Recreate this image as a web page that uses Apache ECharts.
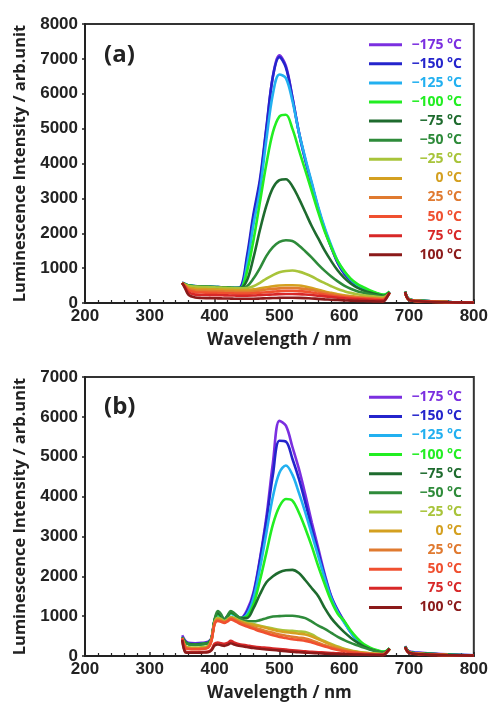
<!DOCTYPE html>
<html>
<head>
<meta charset="utf-8">
<script src="https://cdn.jsdelivr.net/npm/echarts/dist/echarts.min.js"></script>
<style>
  html, body { margin: 0; padding: 0; background: #fff; }
  #chart { width: 491px; height: 704px; }
</style>
</head>
<body>
<div id="chart"></div>
<script>
// Sampling wavelengths (nm); 680 is the detector gap between the two spectral segments
const wavelength = [350,355,360,370,380,390,395,400,405,410,415,420,425,430,
  440,450,460,470,480,490,500,510,520,530,540,550,560,570,580,590,600,610,620,630,640,650,660,
  665,670,680,694,700,720,760,800];

const tempLabels = ['\u2212175 \u00b0C','\u2212150 \u00b0C','\u2212125 \u00b0C','\u2212100 \u00b0C',
  '\u221275 \u00b0C','\u221250 \u00b0C','\u221225 \u00b0C','0 \u00b0C','25 \u00b0C','50 \u00b0C','75 \u00b0C','100 \u00b0C'];

const tempColors = ['#7b2fe0','#2424cc','#22b0f0','#22ee22','#1e6b2e','#2e8b3a',
  '#a8c43a','#d4a020','#e07a30','#f05030','#d82828','#8b1a1a'];

// Panel (a) spectra
const a_m175 = [580,540,500,480,470,465,460,460,455,450,445,440,435,430,440,1250,2450,3450,5000,6500,7100,6800,5900,4900,4100,3400,2700,2100,1600,1150,850,650,500,400,330,270,220,240,320,null,330,110,60,30,15];
const a_m150 = [580,540,505,485,475,468,462,460,456,452,447,442,437,432,460,1350,2550,3550,5050,6500,7050,6750,5900,4900,4100,3400,2700,2100,1600,1150,850,650,500,400,330,270,220,240,310,null,320,110,60,30,15];
const a_m125 = [575,535,500,480,470,465,460,458,455,450,445,440,435,430,430,1100,2250,3250,4700,6000,6550,6450,5800,4900,4150,3450,2750,2150,1650,1200,900,680,520,420,340,280,230,250,320,null,330,110,60,30,15];
const a_m100 = [575,535,500,480,470,465,460,458,455,450,445,440,435,430,430,900,1800,2900,4000,4900,5350,5400,5000,4400,3800,3200,2600,2050,1600,1200,920,700,550,450,360,290,240,260,330,null,330,110,60,30,15];
const a_m75  = [575,530,495,478,468,462,458,455,452,448,443,438,433,430,430,650,1300,2100,2800,3300,3520,3550,3350,3000,2600,2200,1850,1500,1200,930,720,560,440,360,300,250,210,230,310,null,320,100,60,30,15];
const a_m50  = [575,530,495,476,466,460,456,453,450,446,441,436,432,428,430,480,700,1000,1350,1600,1750,1800,1780,1650,1480,1300,1100,920,760,620,500,410,340,290,250,220,190,220,300,null,310,100,55,30,15];
const a_m25  = [570,525,490,470,460,455,450,447,444,440,436,432,428,424,420,430,480,580,700,800,880,920,930,900,840,760,660,570,480,400,340,290,250,220,200,180,160,200,290,null,300,100,55,30,15];
const a_0    = [570,500,440,410,400,395,392,390,388,385,382,380,378,375,370,370,390,420,450,480,500,510,510,500,470,430,380,330,290,250,220,200,180,165,150,140,130,180,290,null,300,90,50,25,10];
const a_25   = [570,480,400,360,350,345,342,340,338,335,332,330,328,325,320,320,335,360,385,405,420,430,430,420,400,370,330,290,255,220,195,175,160,145,135,125,115,170,290,null,300,90,50,25,10];
const a_50   = [570,460,360,310,300,295,292,290,288,285,282,280,278,275,270,270,280,295,310,325,340,350,350,340,325,300,270,240,210,185,165,150,135,125,115,105,95,160,290,null,300,90,50,25,10];
const a_75   = [570,430,300,240,230,228,226,225,224,222,220,218,216,214,210,210,215,225,235,245,255,260,260,255,245,230,210,190,170,150,135,120,110,100,90,80,75,150,300,null,310,90,50,25,10];
const a_100  = [580,400,230,160,145,140,138,136,134,132,130,128,126,124,120,120,122,128,135,142,148,152,152,148,140,130,118,105,95,85,75,68,62,56,50,45,40,130,300,null,320,90,45,20,8];

// Panel (b) spectra
const b_m175 = [520,380,330,320,330,360,450,900,1050,1000,930,1000,1080,1050,950,1150,1600,2450,3500,4850,5900,5780,5250,4700,4050,3350,2700,2050,1500,1150,870,600,400,250,180,130,100,120,190,null,250,120,80,40,20];
const b_m150 = [480,360,310,300,310,340,430,880,1030,980,920,990,1070,1040,950,1100,1550,2400,3400,4550,5400,5380,4950,4450,3850,3200,2600,2000,1480,1130,860,600,400,250,180,130,100,120,190,null,240,110,70,35,15];
const b_m125 = [470,350,300,290,300,330,420,870,1020,970,910,980,1060,1030,950,1050,1450,2200,3100,4000,4600,4780,4550,4100,3600,3050,2500,1950,1450,1100,840,590,400,260,180,130,100,120,190,null,240,110,70,35,15];
const b_m100 = [470,350,300,290,300,330,420,880,1050,990,920,990,1080,1050,950,1000,1300,1900,2600,3300,3750,3940,3900,3600,3200,2750,2250,1800,1380,1060,880,640,450,300,210,150,110,130,200,null,240,100,60,30,15];
const b_m75  = [470,350,300,290,300,330,430,900,1080,1000,910,1000,1100,1060,950,950,1200,1550,1850,2000,2100,2150,2160,2080,1900,1700,1500,1200,950,760,600,460,340,240,170,120,90,110,180,null,230,100,60,30,15];
const b_m50  = [460,340,290,280,290,320,430,920,1130,1050,900,1020,1130,1080,940,870,870,900,950,990,1000,1010,1010,990,950,860,760,680,580,480,400,330,270,210,160,120,90,110,180,null,230,100,60,30,15];
const b_m25  = [450,250,220,215,220,250,400,850,960,930,880,920,980,960,880,830,800,760,720,690,660,640,630,615,600,540,450,370,300,240,180,140,110,85,70,60,50,90,170,null,220,90,50,25,10];
const b_0    = [450,230,200,195,200,235,390,830,930,900,860,900,960,940,860,810,780,740,700,660,620,600,580,560,540,490,420,350,280,220,170,130,100,80,65,55,45,90,170,null,220,90,50,25,10];
const b_25   = [450,210,185,180,185,220,380,820,900,880,850,890,950,920,840,780,720,670,620,580,540,510,480,460,440,390,330,270,220,175,140,110,90,70,55,45,40,90,180,null,220,90,50,25,10];
const b_50   = [450,200,175,170,175,210,370,800,880,860,830,870,920,890,800,740,680,620,570,520,480,450,420,400,380,340,290,240,190,150,120,95,80,60,50,40,30,90,180,null,220,90,50,25,10];
const b_75   = [420,110,95,95,100,110,160,310,340,320,305,330,380,340,290,265,240,220,205,190,175,160,145,130,115,105,95,85,75,65,58,52,46,40,35,30,28,80,180,null,220,80,40,20,10];
const b_100  = [400,90,80,80,85,95,140,260,290,270,255,280,320,290,250,225,200,180,165,150,135,120,105,95,85,76,68,60,54,49,45,41,37,33,29,26,22,80,190,null,230,80,40,20,10];

const panelA = [a_m175,a_m150,a_m125,a_m100,a_m75,a_m50,a_m25,a_0,a_25,a_50,a_75,a_100];
const panelB = [b_m175,b_m150,b_m125,b_m100,b_m75,b_m50,b_m25,b_0,b_25,b_50,b_75,b_100];

const yTicksA = { min: 0, max: 8000, interval: 1000 };
const yTicksB = { min: 0, max: 7000, interval: 1000 };
const xTicks = { min: 200, max: 800, interval: 100 };

const FONT = '"Liberation Sans", Arial, sans-serif';
const LABEL_FONT = '"Open Sans", "Noto Sans", sans-serif';
const AXIS_COLOR = '#222';

function points(vals) {
  return wavelength.map((w, i) => [w, vals[i] === null ? '-' : vals[i]]);
}

function xAxisFor(gridIndex) {
  return {
    type: 'value', gridIndex, min: xTicks.min, max: xTicks.max, interval: xTicks.interval,
    name: 'Wavelength / nm', nameLocation: 'middle', nameGap: 29,
    nameTextStyle: { fontFamily: LABEL_FONT, fontWeight: 'bold', fontSize: 17, color: '#222' },
    axisLine: { onZero: false, lineStyle: { color: AXIS_COLOR, width: 2 } },
    axisTick: { show: true, inside: true, length: 4, lineStyle: { color: AXIS_COLOR, width: 1.5 } },
    minorTick: { show: true, splitNumber: 5, length: 3, lineStyle: { color: AXIS_COLOR, width: 1.2 } },
    axisLabel: { fontFamily: FONT, fontWeight: 'bold', fontSize: 17, color: '#222', margin: 5,
      formatter: v => String(v) },
    splitLine: { show: false }
  };
}

function yAxisFor(gridIndex, ticks) {
  return {
    type: 'value', gridIndex, min: ticks.min, max: ticks.max, interval: ticks.interval,
    name: 'Luminescence Intensity / arb.unit', nameLocation: 'middle', nameGap: 52,
    nameTextStyle: { fontFamily: LABEL_FONT, fontWeight: 'bold', fontSize: 16.5, color: '#222' },
    axisLine: { show: true, lineStyle: { color: AXIS_COLOR, width: 2 } },
    axisTick: { show: true, inside: false, length: 3, lineStyle: { color: AXIS_COLOR, width: 1.5 } },
    axisLabel: { fontFamily: FONT, fontWeight: 'bold', fontSize: 17, color: '#222', margin: 7,
      formatter: v => String(v) },
    splitLine: { show: false }
  };
}

function legendFor(top) {
  return {
    orient: 'vertical', right: 24, top, itemGap: 5.1,
    icon: 'rect', itemWidth: 33, itemHeight: 3, selectedMode: false,
    data: tempLabels.map((name, i) => ({
      name,
      itemStyle: { color: tempColors[i] },
      textStyle: {
        color: tempColors[i],
        rich: { t: { color: tempColors[i], width: 55, align: 'right', lineHeight: 16,
          fontFamily: LABEL_FONT, fontWeight: 'bold', fontSize: 14 } }
      }
    })),
    formatter: name => '{t|' + name + '}',
    textStyle: { fontFamily: LABEL_FONT, fontWeight: 'bold', fontSize: 14 }
  };
}

const series = [];
[panelA, panelB].forEach((panel, g) => {
  panel.forEach((vals, i) => {
    series.push({
      name: tempLabels[i], type: 'line', xAxisIndex: g, yAxisIndex: g,
      data: points(vals), showSymbol: false, smooth: 0.35, connectNulls: false,
      lineStyle: { color: tempColors[i], width: 2.6 },
      itemStyle: { color: tempColors[i] }
    });
  });
});

const chart = echarts.init(document.getElementById('chart'), null, { renderer: 'canvas' });
chart.setOption({
  animation: false,
  backgroundColor: '#fff',
  title: [
    { text: '(a)', left: 99, top: 38, textStyle: { fontFamily: LABEL_FONT, fontWeight: 'bold', fontSize: 24, color: '#222' } },
    { text: '(b)', left: 99, top: 390, textStyle: { fontFamily: LABEL_FONT, fontWeight: 'bold', fontSize: 24, color: '#222' } }
  ],
  grid: [
    { left: 85, top: 24, width: 391, height: 279, show: true, borderColor: '#333', borderWidth: 2, backgroundColor: 'transparent' },
    { left: 85, top: 377, width: 391, height: 279, show: true, borderColor: '#333', borderWidth: 2, backgroundColor: 'transparent' }
  ],
  xAxis: [xAxisFor(0), xAxisFor(1)],
  yAxis: [yAxisFor(0, yTicksA), yAxisFor(1, yTicksB)],
  legend: [legendFor(32.7), legendFor(385.3)],
  series
});
</script>
</body>
</html>
